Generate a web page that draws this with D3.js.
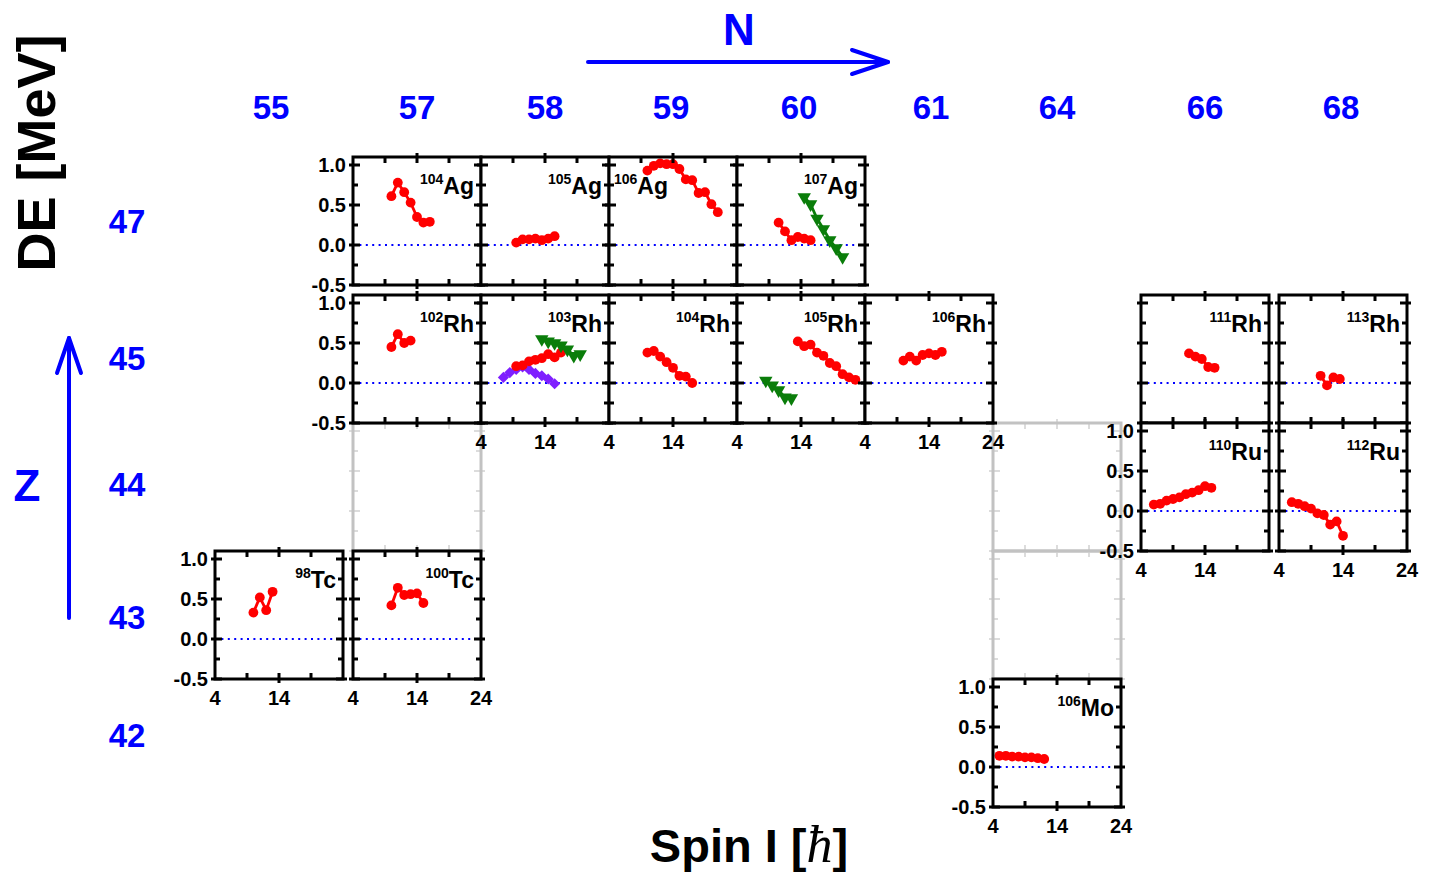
<!DOCTYPE html>
<html><head><meta charset="utf-8">
<script src="https://cdn.jsdelivr.net/npm/d3@7"></script>
<style>body{margin:0;background:#fff} svg{display:block}</style>
</head><body>
<svg id="c" width="1439" height="878"></svg>
<script>
// ---------------- data ----------------
const nLabels = [55, 57, 58, 59, 60, 61, 64, 66, 68];
const zLabels = [47, 45, 44, 43, 42];
const xTickLabels = [4, 14, 24];
const yTickLabels = [1.0, 0.5, 0.0, -0.5];

const nuclei   = ["104Ag","105Ag","106Ag","107Ag","102Rh","103Rh","104Rh","105Rh","106Rh","111Rh","113Rh","110Ru","112Ru","98Tc","100Tc","106Mo"];
const nucleusN = [57, 58, 59, 60, 57, 58, 59, 60, 61, 66, 68, 66, 68, 55, 57, 64];
const nucleusZ = [47, 47, 47, 47, 45, 45, 45, 45, 45, 45, 45, 44, 44, 43, 43, 42];
const emptyN = [57, 64, 64];
const emptyZ = [44, 44, 43];

// spin I [hbar] and DE [MeV] per band
const spin_104Ag = [10, 11, 12, 13, 14, 15, 16];
const de_104Ag   = [0.61, 0.78, 0.66, 0.53, 0.35, 0.28, 0.29];
const spin_105Ag = [9.5, 10.5, 11.5, 12.5, 13.5, 14.5, 15.5];
const de_105Ag   = [0.03, 0.07, 0.07, 0.08, 0.06, 0.08, 0.11];
const spin_106Ag = [10, 11, 12, 13, 14, 15, 16, 17, 18, 19, 20, 21];
const de_106Ag   = [0.93, 0.99, 1.02, 1.01, 1.01, 0.95, 0.82, 0.81, 0.65, 0.66, 0.51, 0.41];
const spin_107Ag_a = [10.5, 11.5, 12.5, 13.5, 14.5, 15.5];
const de_107Ag_a   = [0.28, 0.17, 0.06, 0.10, 0.08, 0.06];
const spin_107Ag_b = [14.5, 15.5, 16.5, 17.5, 18.5, 19.5, 20.5];
const de_107Ag_b   = [0.60, 0.51, 0.33, 0.20, 0.06, -0.04, -0.15];
const spin_102Rh = [10, 11, 12, 13];
const de_102Rh   = [0.45, 0.61, 0.50, 0.53];
const spin_103Rh_a = [9.5, 10.5, 11.5, 12.5, 13.5, 14.5, 15.5, 16.5];
const de_103Rh_a   = [0.21, 0.22, 0.27, 0.29, 0.31, 0.36, 0.32, 0.38];
const spin_103Rh_b = [13.5, 14.5, 15.5, 16.5, 17.5, 18.5, 19.5];
const de_103Rh_b   = [0.55, 0.52, 0.50, 0.47, 0.42, 0.34, 0.36];
const spin_103Rh_c = [7.5, 8.5, 9.5, 10.5, 11.5, 12.5, 13.5, 14.5, 15.5];
const de_103Rh_c   = [0.07, 0.13, 0.17, 0.20, 0.17, 0.12, 0.09, 0.05, -0.01];
const spin_104Rh = [10, 11, 12, 13, 14, 15, 16, 17];
const de_104Rh   = [0.38, 0.40, 0.33, 0.26, 0.19, 0.09, 0.08, 0.00];
const spin_105Rh_a = [13.5, 14.5, 15.5, 16.5, 17.5, 18.5, 19.5, 20.5, 21.5, 22.5];
const de_105Rh_a   = [0.52, 0.46, 0.48, 0.38, 0.34, 0.25, 0.21, 0.11, 0.07, 0.04];
const spin_105Rh_b = [8.5, 9.5, 10.5, 11.5, 12.5];
const de_105Rh_b   = [0.03, -0.03, -0.09, -0.18, -0.19];
const spin_106Rh = [10, 11, 12, 13, 14, 15, 16];
const de_106Rh   = [0.28, 0.33, 0.28, 0.35, 0.37, 0.35, 0.39];
const spin_111Rh = [11.5, 12.5, 13.5, 14.5, 15.5];
const de_111Rh   = [0.37, 0.33, 0.30, 0.20, 0.19];
const spin_113Rh = [10.5, 11.5, 12.5, 13.5];
const de_113Rh   = [0.09, -0.03, 0.07, 0.05];
const spin_110Ru = [6, 7, 8, 9, 10, 11, 12, 13, 14, 15];
const de_110Ru   = [0.08, 0.09, 0.13, 0.15, 0.17, 0.21, 0.23, 0.26, 0.31, 0.29];
const spin_112Ru = [6, 7, 8, 9, 10, 11, 12, 13, 14];
const de_112Ru   = [0.11, 0.09, 0.06, 0.03, -0.03, -0.05, -0.17, -0.13, -0.31];
const spin_98Tc  = [10, 11, 12, 13];
const de_98Tc    = [0.33, 0.52, 0.36, 0.59];
const spin_100Tc = [10, 11, 12, 13, 14, 15];
const de_100Tc   = [0.42, 0.64, 0.55, 0.56, 0.57, 0.45];
const spin_106Mo = [5, 6, 7, 8, 9, 10, 11, 12];
const de_106Mo   = [0.14, 0.14, 0.13, 0.13, 0.12, 0.12, 0.11, 0.10];

// ---------------- layout / style ----------------
const PW = 128, PH = 128;
const colLeft = d3.scaleOrdinal().domain(nLabels).range([215, 353, 481, 609, 737, 865, 993, 1141, 1279]);
const nLabelX = d3.scaleOrdinal().domain(nLabels).range([271, 417, 545, 671, 799, 931, 1057, 1205, 1341]);
const rowTop  = d3.scaleOrdinal().domain(zLabels).range([157, 295, 423, 551, 679]);
const zLabelY = d3.scaleOrdinal().domain(zLabels).range([221, 358, 484, 617, 735]);
const RED = "#ff0000", GREEN = "#0a7d0a", PURPLE = "#7f1fff", BLUE = "#0000ff";

const series = [
  ["104Ag", spin_104Ag, de_104Ag, RED, "circle"],
  ["105Ag", spin_105Ag, de_105Ag, RED, "circle"],
  ["106Ag", spin_106Ag, de_106Ag, RED, "circle"],
  ["107Ag", spin_107Ag_a, de_107Ag_a, RED, "circle"],
  ["107Ag", spin_107Ag_b, de_107Ag_b, GREEN, "tri"],
  ["102Rh", spin_102Rh, de_102Rh, RED, "circle"],
  ["103Rh", spin_103Rh_c, de_103Rh_c, PURPLE, "diamond"],
  ["103Rh", spin_103Rh_a, de_103Rh_a, RED, "circle"],
  ["103Rh", spin_103Rh_b, de_103Rh_b, GREEN, "tri"],
  ["104Rh", spin_104Rh, de_104Rh, RED, "circle"],
  ["105Rh", spin_105Rh_a, de_105Rh_a, RED, "circle"],
  ["105Rh", spin_105Rh_b, de_105Rh_b, GREEN, "tri"],
  ["106Rh", spin_106Rh, de_106Rh, RED, "circle"],
  ["111Rh", spin_111Rh, de_111Rh, RED, "circle"],
  ["113Rh", spin_113Rh, de_113Rh, RED, "circle"],
  ["110Ru", spin_110Ru, de_110Ru, RED, "circle"],
  ["112Ru", spin_112Ru, de_112Ru, RED, "circle"],
  ["98Tc", spin_98Tc, de_98Tc, RED, "circle"],
  ["100Tc", spin_100Tc, de_100Tc, RED, "circle"],
  ["106Mo", spin_106Mo, de_106Mo, RED, "circle"]
];

const yLabelPanels = ["104Ag", "102Rh", "110Ru", "98Tc", "106Mo"];
const xLabelPanels = ["103Rh", "104Rh", "105Rh", "106Rh", "110Ru", "112Ru", "98Tc", "100Tc", "106Mo"];
const x24Panels = ["106Rh", "112Ru", "100Tc", "106Mo"];
const leftNamePanels = ["106Ag"];

const FONT = "'Liberation Sans', Arial, Helvetica, sans-serif";
const svg = d3.select("#c").style("font-family", FONT).style("font-weight", "bold");
const fmtY = v => d3.format(".1f")(v).replace("\u2212", "-");

function scales(N, Z) {
  const l = colLeft(N), t = rowTop(Z);
  return {
    x: d3.scaleLinear().domain([4, 24]).range([l, l + PW]),
    y: d3.scaleLinear().domain([-0.5, 1.1]).range([t + PH, t]),
    l, t
  };
}

function drawFrame(g, s, color, tickColor, sw) {
  const yt = d3.range(-0.5, 1.01, 0.25);
  const xt = [9, 14, 19];
  yt.forEach(v => {
    const major = Math.abs(v * 2 - Math.round(v * 2)) < 1e-6;
    const yy = s.y(v);
    const inL = major ? 7 : 5, outL = major ? 4 : 0;
    g.append("line").attr("x1", s.l - outL).attr("x2", s.l + inL).attr("y1", yy).attr("y2", yy)
      .attr("stroke", tickColor).attr("stroke-width", sw);
    g.append("line").attr("x1", s.l + PW + outL).attr("x2", s.l + PW - inL).attr("y1", yy).attr("y2", yy)
      .attr("stroke", tickColor).attr("stroke-width", sw);
  });
  xt.forEach(v => {
    const xx = s.x(v);
    const major = v === 14;
    g.append("line").attr("x1", xx).attr("x2", xx).attr("y1", s.t + PH + (major ? 4 : 0)).attr("y2", s.t + PH - 6)
      .attr("stroke", tickColor).attr("stroke-width", sw);
    g.append("line").attr("x1", xx).attr("x2", xx).attr("y1", s.t - (major ? 4 : 0)).attr("y2", s.t + 6)
      .attr("stroke", tickColor).attr("stroke-width", sw);
  });
  g.append("rect").attr("x", s.l).attr("y", s.t).attr("width", PW).attr("height", PH)
    .attr("fill", "none").attr("stroke", color).attr("stroke-width", 3);
}

// empty grey frames
const gEmpty = svg.append("g");
emptyN.forEach((N, i) => {
  const s = scales(N, emptyZ[i]);
  drawFrame(gEmpty, s, "#c2c2c2", "#dcdcdc", 2);
});

// panels
const gPanels = svg.append("g");
nuclei.forEach((nuc, i) => {
  const s = scales(nucleusN[i], nucleusZ[i]);
  const g = gPanels.append("g");
  g.append("rect").attr("x", s.l).attr("y", s.t).attr("width", PW).attr("height", PH).attr("fill", "#fff");
  g.append("line").attr("x1", s.l).attr("x2", s.l + PW).attr("y1", s.y(0)).attr("y2", s.y(0))
    .attr("stroke", BLUE).attr("stroke-width", 2).attr("stroke-dasharray", "2,4.4");
  series.filter(d => d[0] === nuc).forEach(([, sp, de, col, mk]) => {
    const pts = sp.map((v, k) => [v, de[k]]);
    g.append("path").attr("d", d3.line().x(d => s.x(d[0])).y(d => s.y(d[1]))(pts))
      .attr("fill", "none").attr("stroke", col).attr("stroke-width", 2.8);
    if (mk === "circle") {
      g.selectAll(null).data(pts).join("circle")
        .attr("cx", d => s.x(d[0])).attr("cy", d => s.y(d[1])).attr("r", 4.9).attr("fill", col);
    } else if (mk === "tri") {
      const sym = d3.symbol().type(d3.symbolTriangle).size(78);
      g.selectAll(null).data(pts).join("path").attr("d", sym)
        .attr("transform", d => `translate(${s.x(d[0])},${s.y(d[1])}) rotate(180)`).attr("fill", col);
    } else {
      const sym = d3.symbol().type(d3.symbolSquare).size(62);
      g.selectAll(null).data(pts).join("path").attr("d", sym)
        .attr("transform", d => `translate(${s.x(d[0])},${s.y(d[1])}) rotate(45)`).attr("fill", col);
    }
  });
  drawFrame(g, s, "#000", "#000", 3);

  const m = nuc.match(/^(\d+)([A-Za-z]+)$/);
  const left = leftNamePanels.includes(nuc);
  const t = g.append("text").attr("y", s.t + 37)
    .attr("x", left ? s.l + 5 : s.l + PW - 7).attr("text-anchor", left ? "start" : "end").attr("fill", "#000");
  t.append("tspan").attr("font-size", 14).attr("dy", -10).text(m[1]);
  t.append("tspan").attr("font-size", 23).attr("dy", 10).text(m[2]);

  if (yLabelPanels.includes(nuc)) {
    yTickLabels.forEach(v => {
      g.append("text").attr("x", s.l - 7).attr("y", s.y(v) + 7).attr("text-anchor", "end")
        .attr("font-size", 20).text(fmtY(v));
    });
  }
  if (xLabelPanels.includes(nuc)) {
    xTickLabels.filter(v => v !== 24 || x24Panels.includes(nuc)).forEach(v => {
      g.append("text").attr("x", s.x(v)).attr("y", s.t + PH + 26).attr("text-anchor", "middle")
        .attr("font-size", 20).text(v);
    });
  }
});

// N and Z labels
svg.append("g").selectAll("text").data(nLabels).join("text")
  .attr("x", d => nLabelX(d)).attr("y", 119).attr("text-anchor", "middle")
  .attr("font-size", 33).attr("fill", BLUE).text(d => d);
svg.append("g").selectAll("text").data(zLabels).join("text")
  .attr("x", 127).attr("y", d => zLabelY(d) + 12).attr("text-anchor", "middle")
  .attr("font-size", 33).attr("fill", BLUE).text(d => d);

// arrows
const ar = svg.append("g").attr("stroke", BLUE).attr("stroke-width", 4).attr("stroke-linecap", "round")
  .attr("stroke-linejoin", "round").attr("fill", "none");
ar.append("line").attr("x1", 588).attr("y1", 62).attr("x2", 888).attr("y2", 62);
ar.append("polyline").attr("points", "852,50 888,62 852,74");
ar.append("line").attr("x1", 69).attr("y1", 618).attr("x2", 69).attr("y2", 338);
ar.append("polyline").attr("points", "57,373 69,338 81,373");
svg.append("text").attr("x", 739).attr("y", 45).attr("text-anchor", "middle").attr("font-size", 44)
  .attr("fill", BLUE).text("N");
svg.append("text").attr("x", 27).attr("y", 501).attr("text-anchor", "middle").attr("font-size", 44)
  .attr("fill", BLUE).text("Z");

// axis titles
svg.append("text").attr("transform", "translate(55,153) rotate(-90)").attr("text-anchor", "middle")
  .attr("font-size", 54).attr("fill", "#000").text("DE [MeV]");
const st = svg.append("text").attr("x", 749).attr("y", 862).attr("text-anchor", "middle")
  .attr("font-size", 47).attr("fill", "#000");
st.append("tspan").text("Spin I [");
st.append("tspan").attr("font-family", "'Liberation Serif', 'DejaVu Serif', serif").attr("font-style", "italic")
  .attr("font-weight", "normal").attr("font-size", 52).text("ħ");
st.append("tspan").text("]");
</script>
</body></html>
